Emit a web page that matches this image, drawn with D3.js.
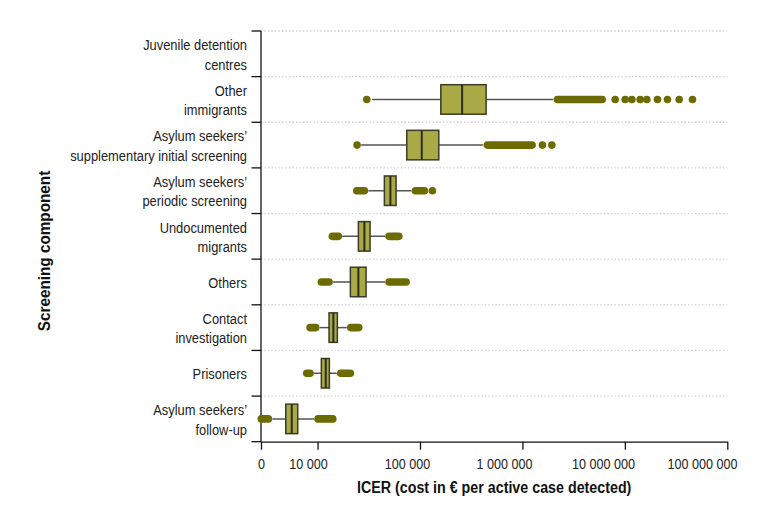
<!DOCTYPE html>
<html>
<head>
<meta charset="utf-8">
<script src="https://cdn.jsdelivr.net/npm/d3@7"></script>
<style>
  body { margin: 0; background: #fff; }
  svg { font-family: "Liberation Sans", Arial, sans-serif; }
  .axis path, .axis line { stroke: #111; stroke-width: 1.3; }
  .axis text { font-size: 15px; fill: #222; }
  .grid line { stroke: #c9c9c9; stroke-width: 1.3; stroke-dasharray: 1.2,2.3; }
</style>
</head>
<body>
<svg width="771" height="524"></svg>
<script>

// categories, top to bottom ("|" = line break)
var categories = [
  "Juvenile detention|centres",
  "Other|immigrants",
  "Asylum seekers’|supplementary initial screening",
  "Asylum seekers’|periodic screening",
  "Undocumented|migrants",
  "Others",
  "Contact|investigation",
  "Prisoners",
  "Asylum seekers’|follow-up"
];

// box stats (ICER, € per active case detected); null = no data
var q1      = [null, 159700, 74310, 44900, 25030, 20910, 12950, 10890, 4893];
var median  = [null, 257700, 104100, 51400, 28640, 25030, 14270, 12020, 5598];
var q3      = [null, 442100, 152600, 58420, 32560, 29760, 15610, 13040, 6406];
var whiskLo = [null, 34060, 26600, 31340, 17470, 14170, 10510, 9240, 3620];
var whiskHi = [null, 1994000, 413300, 82420, 45620, 45620, 19280, 15400, 9240];

// single outliers
var outliers = [
  [],
  [30240, 8040000, 10070000, 11710000, 14110000, 16400000, 20820000, 26060000, 33910000, 45740000],
  [24310, 1568000, 1937000],
  [132200],
  [], [], [], [], []
];

// dense runs of outliers, drawn as continuous bands [from, to]
var outlierRuns = [
  [],
  [[2197000, 6003000]],
  [[455100, 1243000]],
  [[24150, 28640], [90190, 110400]],
  [[13950, 15960], [49900, 62090]],
  [[10890, 12950], [49900, 73150]],
  [[8450, 9600], [21100, 25250]],
  [[7840, 8450], [16850, 20910]],
  [[2826, 3307], [10110, 14080]]
];

// the axis starts at the "0" label, the rest is log
var xZero = 2805;
var xTicks = [xZero, 1e4, 1e5, 1e6, 1e7, 1e8];

var narrow = " scale(0.84,1)";

var svg = d3.select("svg"),
    margin = {top: 31, right: 43.7, bottom: 82.3, left: 261},
    width = +svg.attr("width") - margin.left - margin.right,
    height = +svg.attr("height") - margin.top - margin.bottom,
    g = svg.append("g").attr("transform", "translate(" + margin.left + "," + margin.top + ")");

var x = d3.scaleLog()
    .domain([xZero, 1e8])
    .range([0, width]);

var y = d3.scaleBand()
    .domain(d3.range(categories.length))
    .range([0, height]);

var boxH = 29.5;

// gridlines at band boundaries
g.append("g")
    .attr("class", "grid")
  .selectAll("line")
  .data(d3.range(categories.length))
  .enter().append("line")
    .attr("x1", 0)
    .attr("x2", width)
    .attr("y1", function(i) { return y(i); })
    .attr("y2", function(i) { return y(i); });

var xAxis = d3.axisBottom(x)
    .tickValues(xTicks)
    .tickSize(8)
    .tickSizeOuter(0)
    .tickFormat(function(d) { return d === xZero ? "0" : d3.format(",")(d).replace(/,/g, " "); });

// labels sit to the left of their ticks (right edge just past the tick), "0" centred
g.append("g")
    .attr("class", "axis axis--x")
    .attr("transform", "translate(0," + height + ")")
    .call(xAxis)
    .call(function(a) {
      a.selectAll("text")
          .attr("dy", "1.1em")
          .attr("text-anchor", function(d) { return d === xZero ? "middle" : "end"; })
          .attr("x", function(d) { return d === xZero ? 0 : 11.5; })
          .attr("transform", narrow);
    });

// y axis: ticks on the band boundaries, labels centred in the bands
var yEdge = d3.scaleLinear().domain([0, categories.length]).range([0, height]);

var yAxis = g.append("g").attr("class", "axis axis--y");
yAxis.append("line").attr("x1", 0).attr("x2", 0).attr("y1", 0).attr("y2", height);
yAxis.selectAll(".tick")
  .data(d3.range(categories.length + 1))
  .enter().append("line")
    .attr("x1", -9.5)
    .attr("x2", 0)
    .attr("y1", function(i) { return yEdge(i); })
    .attr("y2", function(i) { return yEdge(i); });

var labels = yAxis.selectAll(".lab")
  .data(categories)
  .enter().append("text")
    .attr("class", "lab")
    .attr("text-anchor", "end")
    .attr("transform", function(d, i) { return "translate(-14," + (y(i) + y.bandwidth() / 2) + ")" + " scale(0.86,1)"; });

labels.each(function(d) {
  var lines = d.split("|"),
      t = d3.select(this),
      lh = 19.5;
  lines.forEach(function(s, k) {
    t.append("tspan")
        .attr("x", 0)
        .attr("y", (k - (lines.length - 1) / 2) * lh + 6)
        .text(s);
  });
});

// boxes
var rows = d3.range(categories.length).filter(function(i) { return q1[i] != null; });

var row = g.selectAll(".row")
  .data(rows)
  .enter().append("g")
    .attr("class", "row")
    .attr("transform", function(i) { return "translate(0," + (y(i) + y.bandwidth() / 2) + ")"; });

row.append("line")
    .attr("x1", function(i) { return x(whiskLo[i]); })
    .attr("x2", function(i) { return x(whiskHi[i]); })
    .attr("stroke", "#555")
    .attr("stroke-width", 1.5);

row.append("rect")
    .attr("x", function(i) { return x(q1[i]); })
    .attr("y", -boxH / 2)
    .attr("width", function(i) { return x(q3[i]) - x(q1[i]); })
    .attr("height", boxH)
    .attr("fill", "#a9a946")
    .attr("stroke", "#3b3b27")
    .attr("stroke-width", 1.5);

row.append("line")
    .attr("x1", function(i) { return x(median[i]); })
    .attr("x2", function(i) { return x(median[i]); })
    .attr("y1", -boxH / 2)
    .attr("y2", boxH / 2)
    .attr("stroke", "#2c2c1c")
    .attr("stroke-width", 2);

row.selectAll(".run")
  .data(function(i) { return outlierRuns[i]; })
  .enter().append("line")
    .attr("class", "run")
    .attr("x1", function(d) { return x(d[0]); })
    .attr("x2", function(d) { return x(d[1]); })
    .attr("stroke", "#6b6b00")
    .attr("stroke-width", 7.6)
    .attr("stroke-linecap", "round");

row.selectAll(".out")
  .data(function(i) { return outliers[i]; })
  .enter().append("circle")
    .attr("class", "out")
    .attr("cx", function(d) { return x(d); })
    .attr("r", 3.8)
    .attr("fill", "#6b6b00");

// titles
svg.append("text")
    .attr("transform", "translate(" + (margin.left + width / 2) + ",493)" + narrow)
    .attr("text-anchor", "middle")
    .attr("font-weight", "bold")
    .attr("font-size", 17)
    .attr("fill", "#111")
    .text("ICER (cost in € per active case detected)");

svg.append("text")
    .attr("transform", "translate(50,251) rotate(-90) scale(0.9,1)")
    .attr("text-anchor", "middle")
    .attr("font-weight", "bold")
    .attr("font-size", 17)
    .attr("fill", "#111")
    .text("Screening component");

</script>
</body>
</html>
